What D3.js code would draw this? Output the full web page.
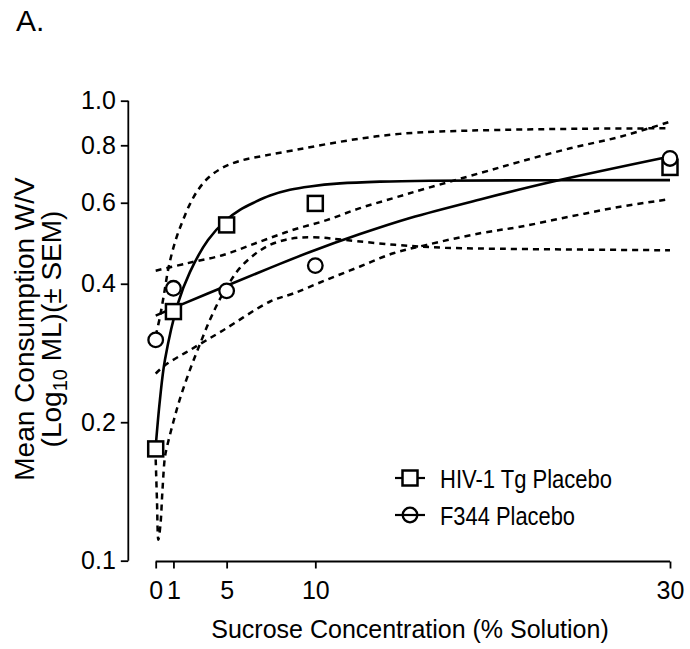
<!DOCTYPE html>
<html>
<head>
<meta charset="utf-8">
<script src="https://cdn.jsdelivr.net/npm/d3@7"></script>
<style>
  body { margin: 0; background: #fff; }
  text { font-family: "Liberation Sans", Arial, sans-serif; fill: #000; }
</style>
</head>
<body>
<svg id="chart"></svg>
<script>
// x positions used for the concentrations (the "0" tick sits at 1, "1" at 2)
const xTicks = [1, 2, 5, 10, 30];
const xTickLabels = ["0", "1", "5", "10", "30"];
const yTicks = [0.1, 0.2, 0.4, 0.6, 0.8, 1.0];

// measured means
const hivPoints = [0.175, 0.348, 0.537, 0.598, 0.716];
const f344Points = [0.302, 0.391, 0.386, 0.438, 0.749];

// fitted curves as [x, value]
const hivFit = [[1, 0.177], [1.24, 0.224], [1.52, 0.273], [2.26, 0.363], [2.93, 0.424],
    [3.95, 0.498], [4.97, 0.550], [5.75, 0.579], [6.60, 0.602], [7.45, 0.622],
    [8.57, 0.640], [9.70, 0.651], [11.39, 0.661], [13.65, 0.667], [16.47, 0.670], [30, 0.672]];
const f344Fit = [[1, 0.341], [2.27, 0.358], [5, 0.396], [7.45, 0.433], [9.7, 0.469],
    [12.52, 0.513], [15.34, 0.556], [19.29, 0.610], [23.41, 0.667], [30, 0.756]];

// confidence bands (dashed)
const hivUpper = [[1, 0.308], [1.24, 0.339], [1.47, 0.380], [1.69, 0.427], [1.92, 0.467],
    [2.20, 0.508], [2.54, 0.550], [2.93, 0.596], [3.39, 0.640], [3.95, 0.679],
    [4.74, 0.714], [5.75, 0.740], [7.16, 0.760], [8.85, 0.781], [10.82, 0.807],
    [12.79, 0.830], [14.76, 0.847], [17.03, 0.857], [20.41, 0.864], [24.92, 0.869], [30, 0.871]];
const hivLower = [[1, 0.166], [1.07, 0.136], [1.15, 0.111], [1.27, 0.120], [1.38, 0.142],
    [1.52, 0.168], [1.64, 0.177], [1.99, 0.200], [2.37, 0.225], [2.93, 0.260],
    [3.50, 0.296], [4.06, 0.334], [4.63, 0.371], [5.19, 0.404], [5.75, 0.433],
    [6.60, 0.464], [7.45, 0.486], [8.29, 0.498], [9.14, 0.504], [10.27, 0.504],
    [11.68, 0.498], [14.50, 0.486], [17.32, 0.479], [21.55, 0.476], [30, 0.473]];
const f344Upper = [[1, 0.427], [2.75, 0.443], [4.81, 0.462], [6.88, 0.494], [8.76, 0.524],
    [10.64, 0.550], [12.52, 0.584], [14.40, 0.614], [16.28, 0.645], [19.29, 0.696],
    [21.55, 0.737], [24.37, 0.788], [27.19, 0.835], [30, 0.900]];
const f344Lower = [[1, 0.255], [1.52, 0.266], [2.93, 0.287], [4.81, 0.317], [7.45, 0.366],
    [8.76, 0.381], [10.64, 0.408], [12.52, 0.436], [14.40, 0.466], [16.28, 0.486],
    [19.29, 0.515], [21.55, 0.532], [24.37, 0.560], [27.19, 0.588], [30, 0.611]];

const legendNames = ["HIV-1 Tg Placebo", "F344 Placebo"];

const width = 690, height = 649;
const svg = d3.select("#chart").attr("width", width).attr("height", height);

const x = d3.scaleLinear().domain([1, 30]).range([155.7, 670]);
const y = d3.scaleLog().domain([0.1, 1]).range([560.7, 100.7]);
const yAxisX = 128.3;
const xAxisY = 561.5;

// y軸
const yAxis = svg.append("g")
    .attr("transform", `translate(${yAxisX},0)`)
    .call(d3.axisLeft(y).tickValues(yTicks).tickFormat(d3.format(".1f")).tickSize(7.5).tickPadding(5));
yAxis.select(".domain").attr("d", `M0,${y(1)}V${y(0.1)}`);

// x軸
const xAxis = svg.append("g")
    .attr("transform", `translate(0,${xAxisY})`)
    .call(d3.axisBottom(x).tickValues(xTicks).tickFormat((d, i) => xTickLabels[i]).tickSize(7).tickPadding(13));
xAxis.select(".domain").attr("d", `M${x(1)},0H${x(30)}`);

svg.selectAll(".domain").attr("stroke", "#000").attr("stroke-width", 1.8);
svg.selectAll(".tick line").attr("stroke", "#000").attr("stroke-width", 1.8);
svg.selectAll(".tick text").attr("font-size", "25px").attr("fill", "#000")
    .attr("font-family", '"Liberation Sans", Arial, sans-serif');
xAxis.selectAll(".tick text").attr("dy", "0.71em");

const line = d3.line()
    .x(d => x(d[0]))
    .y(d => y(d[1]))
    .curve(d3.curveCatmullRom.alpha(0.5));

// 信頼帯（破線）
[hivUpper, hivLower, f344Upper, f344Lower].forEach(band => {
    svg.append("path")
        .datum(band)
        .attr("d", line)
        .attr("fill", "none")
        .attr("stroke", "#000")
        .attr("stroke-width", 2.5)
        .attr("stroke-dasharray", "6,5");
});

// 近似曲線
[hivFit, f344Fit].forEach(fit => {
    svg.append("path")
        .datum(fit)
        .attr("d", line)
        .attr("fill", "none")
        .attr("stroke", "#000")
        .attr("stroke-width", 2.6);
});

// 測定値
const sq = 15;
svg.selectAll("rect.hiv")
    .data(hivPoints)
    .enter().append("rect")
    .attr("class", "hiv")
    .attr("x", (d, i) => x(xTicks[i]) - sq / 2)
    .attr("y", d => y(d) - sq / 2)
    .attr("width", sq)
    .attr("height", sq)
    .attr("fill", "#fff")
    .attr("stroke", "#000")
    .attr("stroke-width", 2.5);

svg.selectAll("circle.f344")
    .data(f344Points)
    .enter().append("circle")
    .attr("class", "f344")
    .attr("cx", (d, i) => x(xTicks[i]))
    .attr("cy", d => y(d))
    .attr("r", 7.3)
    .attr("fill", "#fff")
    .attr("stroke", "#000")
    .attr("stroke-width", 2.3);

// 凡例
const legendWidths = [172, 135];
const legend = svg.append("g").attr("transform", "translate(410,478)");
legendNames.forEach((name, i) => {
    const g = legend.append("g").attr("transform", `translate(0,${i * 37})`);
    g.append("line")
        .attr("x1", -15).attr("x2", 15)
        .attr("stroke", "#000").attr("stroke-width", 2.2);
    if (i === 0) {
        g.append("rect")
            .attr("x", -sq / 2).attr("y", -sq / 2)
            .attr("width", sq).attr("height", sq)
            .attr("fill", "#fff").attr("stroke", "#000").attr("stroke-width", 2.5);
    } else {
        g.append("circle")
            .attr("r", 7.3)
            .attr("fill", "none").attr("stroke", "#000").attr("stroke-width", 2.3);
    }
    g.append("text")
        .attr("x", 30)
        .attr("y", 9.5)
        .attr("font-size", "25px")
        .attr("textLength", legendWidths[i])
        .attr("lengthAdjust", "spacingAndGlyphs")
        .text(name);
});

// 軸ラベル
svg.append("text")
    .attr("x", 410)
    .attr("y", 638)
    .attr("text-anchor", "middle")
    .attr("font-size", "25px")
    .text("Sucrose Concentration (% Solution)");

svg.append("text")
    .attr("transform", "translate(34,329) rotate(-90)")
    .attr("text-anchor", "middle")
    .attr("font-size", "28px")
    .text("Mean Consumption W/V");

const yl2 = svg.append("text")
    .attr("transform", "translate(61,329) rotate(-90)")
    .attr("text-anchor", "middle")
    .attr("font-size", "28px");
yl2.append("tspan").text("(Log");
yl2.append("tspan").attr("font-size", "20px").attr("dy", 6).text("10");
yl2.append("tspan").attr("dy", -6).text(" ML)(\u00b1 SEM)");

// タイトル
svg.append("text")
    .attr("x", 16)
    .attr("y", 31)
    .attr("font-size", "30px")
    .text("A.");
</script>
</body>
</html>
